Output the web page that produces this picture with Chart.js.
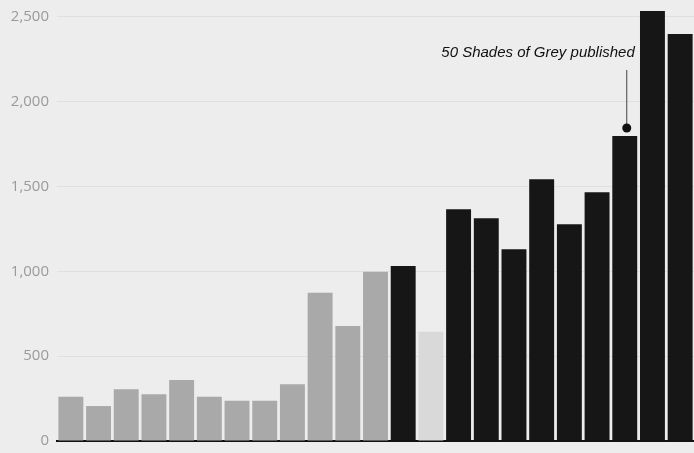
<!DOCTYPE html>
<html>
<head>
<meta charset="utf-8">
<script src="https://cdn.jsdelivr.net/npm/chart.js@4/dist/chart.umd.min.js"></script>
<style>
  html, body { margin: 0; padding: 0; background: #ededed; }
  #wrap { width: 694px; height: 453px; }
</style>
</head>
<body>
<div id="wrap"><canvas id="chart"></canvas></div>
<script>
// one bar per period
const labels = ["1", "2", "3", "4", "5", "6", "7", "8", "9", "10", "11", "12",
                "13", "14", "15", "16", "17", "18", "19", "20", "21", "22", "23"];
const values = [261, 206, 305, 275, 360, 261, 238, 238, 334, 874, 678, 998,
                1032, 644, 1366, 1313, 1130, 1543, 1278, 1466, 1798, 2535, 2400];
// g = grey, k = black, l = light grey
const shades = ["g", "g", "g", "g", "g", "g", "g", "g", "g", "g", "g", "g",
                "k", "l", "k", "k", "k", "k", "k", "k", "k", "k", "k"];
const yTicks = [0, 500, 1000, 1500, 2000, 2500];

const annotationText = "50 Shades of Grey published";
const annotationIndex = 20;

const shadeColors = { g: "#a9a9a9", k: "#161616", l: "#d9d9d9" };

const annotation = {
    id: "annotation",
    afterDatasetsDraw(chart) {
        const ctx = chart.ctx;
        const x = chart.scales.x.getPixelForValue(annotationIndex);
        const yBar = chart.scales.y.getPixelForValue(values[annotationIndex]);
        const dotY = yBar - 8;
        const lineTop = yBar - 66;

        ctx.save();
        ctx.strokeStyle = "#444";
        ctx.lineWidth = 1;
        ctx.beginPath();
        ctx.moveTo(x + 2, lineTop);
        ctx.lineTo(x + 2, dotY);
        ctx.stroke();

        ctx.fillStyle = "#111";
        ctx.beginPath();
        ctx.arc(x + 2, dotY, 4.5, 0, Math.PI * 2);
        ctx.fill();

        ctx.font = "italic 15px 'Liberation Sans', Arial, sans-serif";
        ctx.textAlign = "right";
        ctx.textBaseline = "middle";
        ctx.fillStyle = "#111";
        ctx.fillText(annotationText, x + 10, yBar - 83);
        ctx.restore();
    }
};

new Chart(document.getElementById("chart").getContext("2d"), {
    type: "bar",
    data: {
        labels: labels,
        datasets: [{
            data: values,
            backgroundColor: shades.map(s => shadeColors[s]),
            barPercentage: 0.9,
            categoryPercentage: 1.0
        }]
    },
    options: {
        responsive: true,
        maintainAspectRatio: false,
        animation: false,
        layout: { padding: { top: 0, right: 0, bottom: 12, left: 0 } },
        plugins: {
            legend: { display: false },
            tooltip: { enabled: false }
        },
        scales: {
            x: {
                afterFit(scale) { scale.height = 0; },
                grid: { display: false, drawTicks: false },
                ticks: { display: false },
                border: { display: true, color: "#111", width: 2 }
            },
            y: {
                min: 0,
                max: 2600,
                afterFit(scale) {
                    scale.width = 57;
                    scale.paddingTop = 0;
                    scale.paddingBottom = 0;
                },
                afterBuildTicks(scale) {
                    scale.ticks = yTicks.map(v => ({ value: v }));
                },
                grid: { color: "rgba(0,0,0,0.05)", drawTicks: false },
                border: { display: false },
                ticks: {
                    padding: 8,
                    color: "#9a9a9a",
                    font: { family: "'Open Sans', sans-serif", size: 15 },
                    callback: v => v.toLocaleString("en-US")
                }
            }
        }
    },
    plugins: [annotation]
});
</script>
</body>
</html>
